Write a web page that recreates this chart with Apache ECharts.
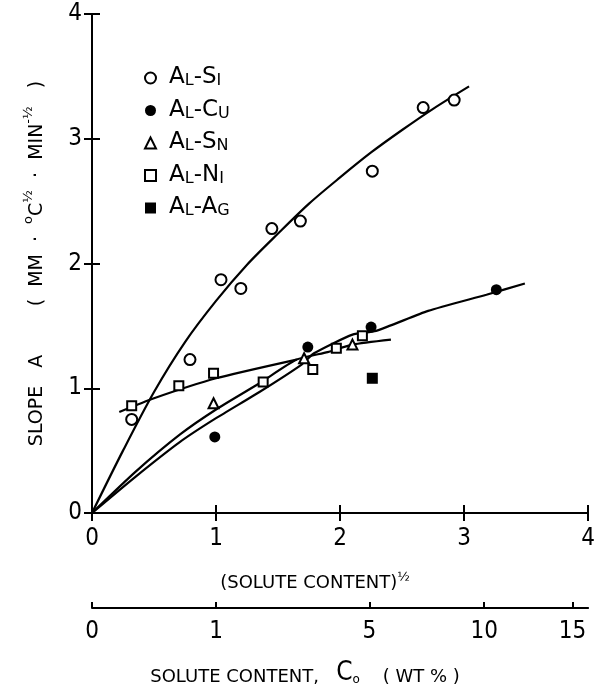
<!DOCTYPE html>
<html><head><meta charset="utf-8">
<script src="https://cdn.jsdelivr.net/npm/echarts@6/dist/echarts.min.js"></script>
<style>html,body{margin:0;padding:0;background:#fff}#c{width:598px;height:691px}</style>
</head><body><div id="c"></div>
<script>
// ---- data ----
const xTicks = [0, 1, 2, 3, 4];          // (solute content)^1/2
const yTicks = [0, 1, 2, 3, 4];          // slope A
const wtTicks = [0, 1, 5, 10, 15];       // solute content, wt%
const seriesNames = ['Al-Si', 'Al-Cu', 'Al-Sn', 'Al-Ni', 'Al-Ag'];

const siX = [0.32, 0.79, 1.04, 1.20, 1.45, 1.68, 2.26, 2.67, 2.92];
const siY = [0.75, 1.23, 1.87, 1.80, 2.28, 2.34, 2.74, 3.25, 3.31];
const cuX = [0.99, 1.74, 2.25, 3.26];
const cuY = [0.61, 1.33, 1.49, 1.79];
const snX = [0.98, 1.71, 2.10];
const snY = [0.88, 1.24, 1.35];
const niX = [0.32, 0.70, 0.98, 1.38, 1.78, 1.97, 2.18];
const niY = [0.86, 1.02, 1.12, 1.05, 1.15, 1.32, 1.42];
const agX = [2.26];
const agY = [1.08];

// hand-drawn fit curves
const fitSiX = [0, 0.25, 0.5, 0.75, 1.0, 1.25, 1.5, 1.75, 2.0, 2.25, 2.5, 2.75, 3.04];
const fitSiY = [0, 0.50, 0.97, 1.37, 1.70, 1.99, 2.24, 2.48, 2.69, 2.89, 3.07, 3.24, 3.42];
const fitNiX = [0.22, 0.5, 1.0, 1.65];
const fitNiY = [0.81, 0.92, 1.08, 1.23];
const fitSnX = [0, 0.35, 0.71, 1.0, 1.35, 1.65, 1.9, 2.1, 2.41];
const fitSnY = [0, 0.33, 0.63, 0.83, 1.04, 1.23, 1.29, 1.35, 1.39];
const fitCuX = [0, 0.35, 0.71, 1.0, 1.35, 1.69, 1.79, 2.1, 2.29, 2.71, 3.18, 3.49];
const fitCuY = [0, 0.29, 0.57, 0.76, 0.97, 1.19, 1.28, 1.43, 1.46, 1.62, 1.75, 1.84];

const pairs = (xs, ys) => xs.map((x, i) => [x, ys[i]]);
const NARROW = "'Liberation Sans Narrow', 'DejaVu Sans Condensed', 'Liberation Sans', sans-serif";
const SANS = "'DejaVu Sans', sans-serif";
const K = '#000';

const axisLine = { show: true, lineStyle: { color: K, width: 2 } };
const inTick = { show: true, inside: true, length: 8, lineStyle: { color: K, width: 2 } };

function scatter(name, xs, ys, symbol, size, filled) {
  return {
    name, type: 'scatter', data: pairs(xs, ys), symbol, symbolSize: size, z: 5,
    itemStyle: { color: filled ? K : '#fff', borderColor: K, borderWidth: filled ? 0 : 2, opacity: 1 }
  };
}
function fit(xs, ys, smooth) {
  return {
    type: 'line', data: pairs(xs, ys), showSymbol: false, smooth, z: 2, silent: true,
    lineStyle: { color: K, width: 2.2 }
  };
}

const chart = echarts.init(document.getElementById('c'), null, { renderer: 'canvas' });
chart.setOption({
  backgroundColor: '#fff',
  animation: false,
  grid: { left: 92, right: 8, top: 14, bottom: 171 },
  legend: {
    data: seriesNames,
    orient: 'vertical', left: 139, top: 61, itemWidth: 11, itemHeight: 11, itemGap: 9.5,
    formatter: n => {
      const [a, b] = n.split('-');
      return `{p| }{b|${a[0]}}{s|${a.slice(1).toUpperCase()}}{b|-${b[0]}}{s|${b.slice(1).toUpperCase()}}`;
    },
    textStyle: {
      color: K,
      rich: {
        p: { width: 8, fontSize: 10, lineHeight: 22 },
        b: { fontFamily: SANS, fontSize: 23, lineHeight: 22, verticalAlign: 'bottom', color: K },
        s: { fontFamily: SANS, fontSize: 16, lineHeight: 17, verticalAlign: 'bottom', color: K }
      }
    }
  },
  xAxis: [
    {
      type: 'value', min: 0, max: 4, interval: 1, position: 'bottom',
      axisLine, axisTick: inTick, splitLine: { show: false },
      axisLabel: { margin: 14, fontSize: 24, fontFamily: NARROW, color: K, formatter: v => xTicks.includes(v) ? String(v) : '' },
      name: '{t|(SOLUTE CONTENT)}{s|½}', nameLocation: 'middle', nameGap: 58,
      nameTextStyle: {
        padding: [0, 50, 0, 0],
        rich: {
          t: { fontFamily: SANS, fontSize: 18, lineHeight: 24, color: K },
          s: { fontFamily: SANS, fontSize: 13, lineHeight: 12, verticalAlign: 'top', color: K }
        }
      }
    },
    {
      type: 'value', min: 0, max: 4, interval: 1, position: 'top',
      axisLine, axisTick: inTick, axisLabel: { show: false }, splitLine: { show: false }
    },
    {
      type: 'value', min: 0, max: 4, position: 'bottom', offset: 95,
      axisLine,
      axisTick: { show: true, inside: true, length: 6, lineStyle: { color: K, width: 2 }, customValues: wtTicks.map(Math.sqrt) },
      axisLabel: { margin: 12, fontSize: 24, fontFamily: NARROW, color: K, customValues: wtTicks.map(Math.sqrt), formatter: v => String(Math.round(v * v)) },
      splitLine: { show: false },
      name: '{t|SOLUTE CONTENT,}{t|   }{c|C}{o|o}{t|    ( WT % )}', nameLocation: 'middle', nameGap: 51,
      nameTextStyle: {
        padding: [0, 70, 0, 0],
        rich: {
          t: { fontFamily: SANS, fontSize: 18, lineHeight: 24, verticalAlign: 'bottom', color: K },
          c: { fontFamily: NARROW, fontSize: 26, lineHeight: 27, verticalAlign: 'bottom', color: K },
          o: { fontFamily: SANS, fontSize: 12, lineHeight: 15, verticalAlign: 'bottom', color: K }
        }
      }
    }
  ],
  yAxis: [
    {
      type: 'value', min: 0, max: 4, interval: 1, position: 'left',
      axisLine, axisTick: inTick, splitLine: { show: false },
      axisLabel: { margin: 10, fontSize: 24, fontFamily: NARROW, color: K, formatter: v => yTicks.includes(v) ? String(v) : '' },
      name: '{t|SLOPE   A}{t|        (  MM  ·  }{u|o}{t|C}{u|½}{t|  ·  MIN}{u|-½}{t|   )}',
      nameLocation: 'middle', nameGap: 40,
      nameTextStyle: {
        rich: {
          t: { fontFamily: SANS, fontSize: 19, lineHeight: 30, color: K },
          u: { fontFamily: SANS, fontSize: 13, lineHeight: 13, verticalAlign: 'top', color: K }
        }
      }
    },
    {
      type: 'value', min: 0, max: 4, interval: 1, position: 'right',
      axisLine, axisTick: inTick, axisLabel: { show: false }, splitLine: { show: false }
    }
  ],
  series: [
    fit(fitSiX, fitSiY, 0.3),
    fit(fitNiX, fitNiY, 0.2),
    fit(fitSnX, fitSnY, 0.2),
    fit(fitCuX, fitCuY, 0.2),
    scatter(seriesNames[0], siX, siY, 'circle', 11, false),
    scatter(seriesNames[1], cuX, cuY, 'circle', 11, true),
    scatter(seriesNames[2], snX, snY, 'triangle', 10, false),
    scatter(seriesNames[3], niX, niY, 'rect', 9, false),
    scatter(seriesNames[4], agX, agY, 'rect', 11, true)
  ]
});
</script></body></html>
